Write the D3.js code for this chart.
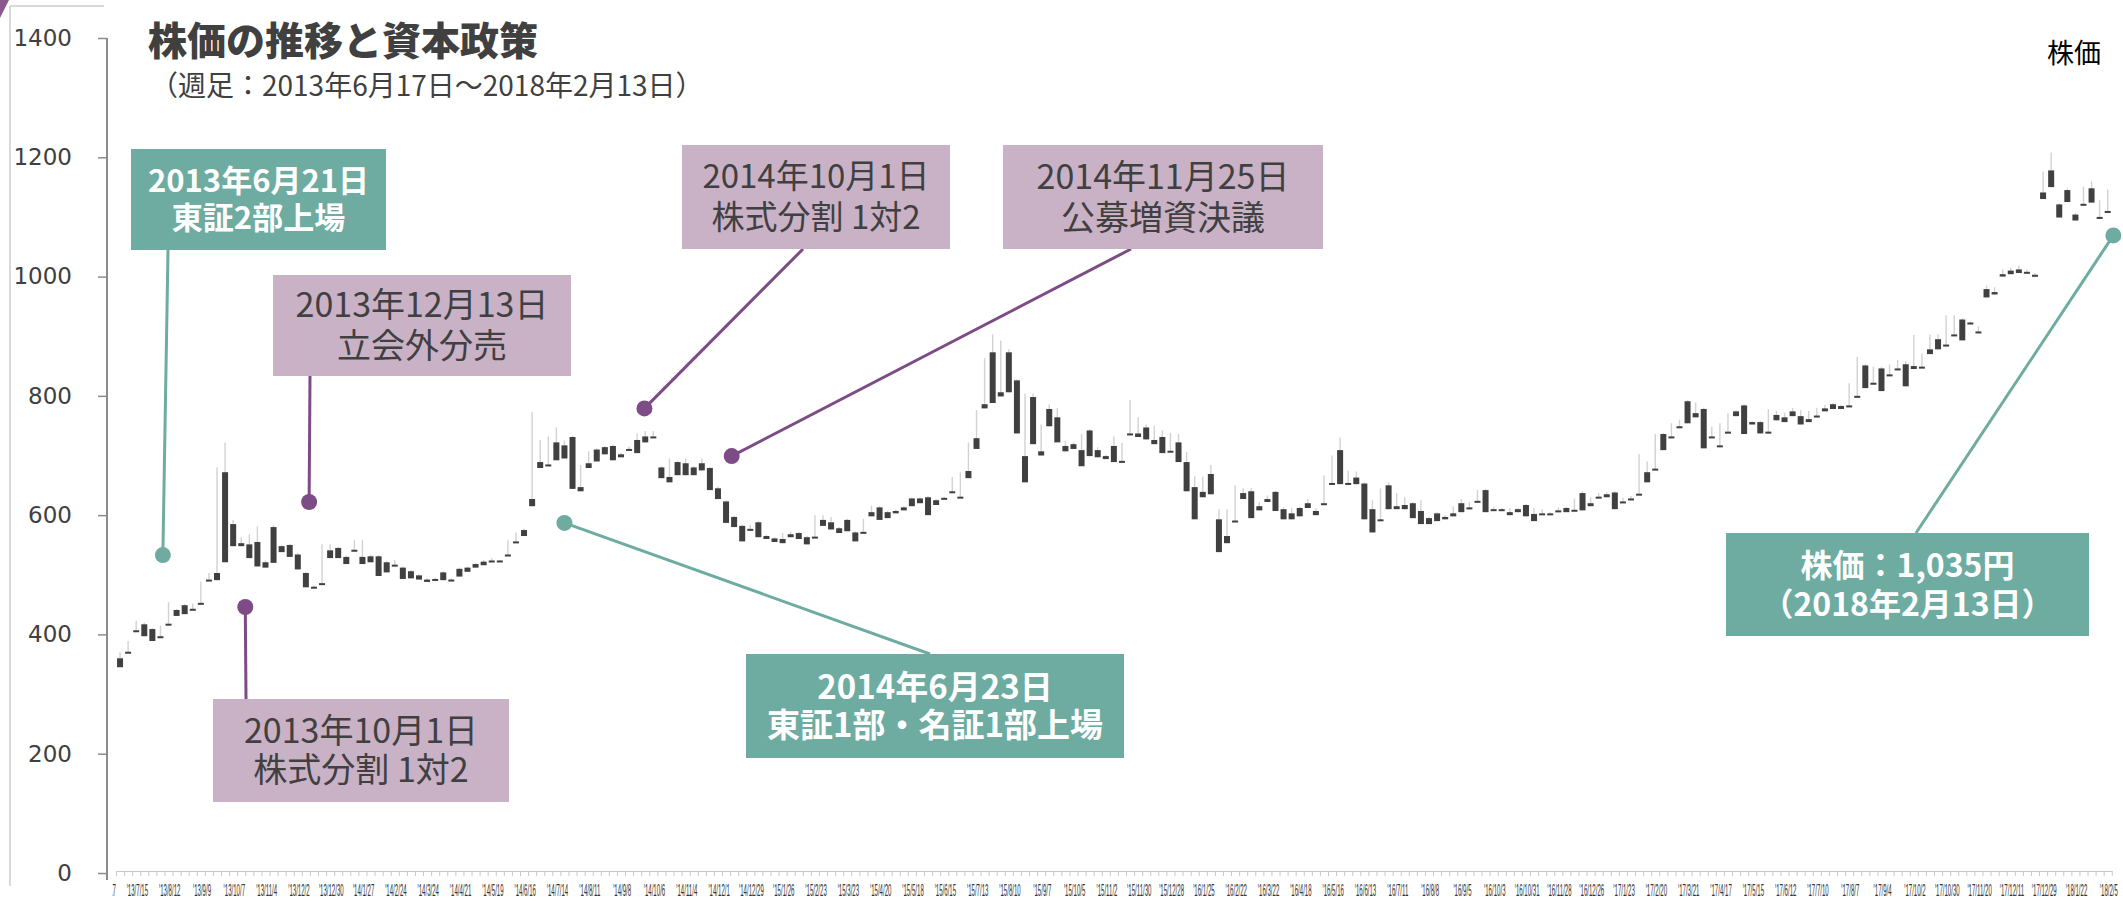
<!DOCTYPE html>
<html>
<head>
<meta charset="utf-8">
<script src="https://cdn.jsdelivr.net/npm/d3@7"></script>
<style>
  body { margin: 0; background: #fff; }
  text { font-family: "Noto Sans CJK JP", "Noto Sans", sans-serif; }
</style>
</head>
<body>
<div id="chart"></div>
<script>
// weekly category labels, one every 4 weeks
const xLabels = ["'13/6/17","'13/7/15","'13/8/12","'13/9/9","'13/10/7","'13/11/4","'13/12/2","'13/12/30",
  "'14/1/27","'14/2/24","'14/3/24","'14/4/21","'14/5/19","'14/6/16","'14/7/14","'14/8/11","'14/9/8",
  "'14/10/6","'14/11/4","'14/12/1","'14/12/29","'15/1/26","'15/2/23","'15/3/23","'15/4/20","'15/5/18",
  "'15/6/15","'15/7/13","'15/8/10","'15/9/7","'15/10/5","'15/11/2","'15/11/30","'15/12/28","'16/1/25",
  "'16/2/22","'16/3/22","'16/4/18","'16/5/16","'16/6/13","'16/7/11","'16/8/8","'16/9/5","'16/10/3",
  "'16/10/31","'16/11/28","'16/12/26","'17/1/23","'17/2/20","'17/3/21","'17/4/17","'17/5/15","'17/6/12",
  "'17/7/10","'17/8/7","'17/9/4","'17/10/2","'17/10/30","'17/11/20","'17/12/11","'17/12/29","'18/1/22","'18/2/5"];

// weekly candles: top of body, bottom of body, high
const bodyHi = [360,371,407,417,409,397,418,441,449,443,
  453,492,503,672,585,553,551,555,521,580,
  548,550,534,503,480,486,541,545,530,542,
  530,531,531,521,517,512,506,499,492,493,
  504,492,510,512,518,522,524,524,534,556,
  575,627,689,685,722,717,731,647,687,710,
  714,716,702,711,726,732,732,680,664,689,
  687,680,687,679,645,623,597,582,577,588,
  565,561,560,568,570,563,564,592,588,578,
  592,571,572,605,613,605,607,613,628,628,
  630,625,629,640,631,674,729,786,873,806,
  873,826,699,798,707,778,764,716,719,709,
  742,709,699,716,691,737,737,747,726,731,
  708,722,689,647,639,669,593,565,591,637,
  640,615,627,639,610,603,612,620,607,620,
  654,709,654,663,653,610,593,650,615,617,
  620,607,595,603,597,603,620,613,624,642,
  610,610,605,610,617,602,603,603,608,612,
  609,637,620,631,635,638,623,628,636,672,
  678,736,732,749,791,771,778,732,717,740,
  774,784,756,756,740,768,764,774,766,761,
  767,779,786,783,784,800,851,822,846,836,
  846,853,850,849,878,895,886,903,928,923,
  908,979,974,1004,1010,1012,1008,1003,1141,1178,
  1121,1145,1104,1122,1148,1100,1110];

const bodyLo = [345,369,405,397,389,395,416,431,434,441,
  451,490,491,521,548,548,528,514,512,520,
  538,530,509,479,478,484,528,528,518,540,
  518,521,498,504,515,493,494,492,488,491,
  491,490,497,505,512,516,521,522,532,554,
  565,615,679,683,692,695,644,640,679,690,
  702,692,697,709,704,722,730,662,655,667,
  667,667,675,642,627,587,580,556,575,563,
  560,555,553,563,560,551,562,582,576,570,
  573,556,570,598,592,595,603,608,615,620,
  600,617,627,637,629,662,711,779,788,799,
  806,737,655,719,700,749,722,707,711,682,
  699,697,694,689,689,734,731,727,719,704,
  706,689,640,593,630,635,538,553,589,627,
  595,608,622,607,593,593,598,612,600,617,
  652,652,652,652,593,571,591,610,610,610,
  595,585,585,590,593,598,605,610,622,605,
  607,607,600,605,598,590,601,601,605,605,
  607,608,615,629,630,610,621,625,634,655,
  676,709,729,746,754,764,712,730,715,738,
  766,736,752,737,738,759,756,766,752,756,
  765,774,778,778,781,798,813,820,808,834,
  844,816,845,847,870,878,883,901,893,920,
  905,965,970,1000,1004,1006,1005,1000,1130,1150,
  1099,1125,1094,1120,1124,1098,1108];

const priceHigh = [370,389,423,420,411,415,454,443,451,452,
  488,503,680,722,592,563,568,581,524,583,
  550,552,536,505,482,551,551,547,532,558,
  558,533,533,523,525,514,508,501,494,495,
  506,494,512,514,520,525,528,525,558,571,
  577,773,726,732,747,725,733,684,707,712,
  716,718,704,715,737,741,741,682,695,691,
  695,682,695,681,648,625,599,584,584,590,
  567,563,570,572,572,565,600,600,597,580,
  594,573,594,616,615,607,609,615,630,630,
  632,627,631,664,672,722,776,863,903,893,
  878,828,804,804,752,786,780,725,722,736,
  744,714,701,732,721,793,764,752,750,742,
  738,736,706,665,665,684,610,610,650,645,
  645,622,633,641,613,612,614,627,612,667,
  700,730,675,673,655,625,645,655,637,630,
  622,625,597,605,600,615,627,622,642,644,
  614,612,612,612,619,612,610,605,613,614,
  628,640,630,637,638,640,629,632,702,690,
  736,738,754,760,793,789,780,748,754,771,
  776,786,758,758,778,775,772,780,776,775,
  780,785,788,785,821,865,853,849,849,853,
  860,858,902,871,903,903,935,935,930,925,
  917,985,982,1012,1015,1018,1012,1006,1176,1208,
  1123,1148,1106,1151,1160,1128,1146];

const yTicks = [0, 200, 400, 600, 800, 1000, 1200, 1400];

// callouts: box in pixels, dot in data units (week index, price)
const callouts = [
  {lines: ["2013年6月21日", "東証2部上場"], kind: "teal", size: 31, gap: 37, box: [131, 149, 255, 101], from: [168, 250], week: 5.3, price: 533},
  {lines: ["2013年12月13日", "立会外分売"], kind: "mauve", size: 34, gap: 41, box: [273, 275, 298, 101], from: [310, 376], week: 23.4, price: 622},
  {lines: ["2014年10月1日", "株式分割 1対2"], kind: "mauve", size: 33, gap: 41, box: [682, 145, 268, 104], from: [803, 249], week: 64.9, price: 779},
  {lines: ["2014年11月25日", "公募増資決議"], kind: "mauve", size: 34, gap: 41, box: [1003, 145, 320, 104], from: [1131, 249], week: 75.7, price: 699},
  {lines: ["2013年10月1日", "株式分割 1対2"], kind: "mauve", size: 34, gap: 39, box: [213, 699, 296, 103], from: [246, 699], week: 15.5, price: 446},
  {lines: ["2014年6月23日", "東証1部・名証1部上場"], kind: "teal", size: 33, gap: 38, box: [746, 654, 378, 104], from: [930, 654], week: 55, price: 587},
  {lines: ["株価：1,035円", "（2018年2月13日）"], kind: "teal", size: 32, gap: 39, box: [1726, 533, 363, 103], from: [1916, 533], week: 246.7, price: 1069}
];

const width = 2123, height = 901;
const N = bodyHi.length;
const step = 8.08;
const colors = {
  teal: {box: "#6eaca2", text: "#ffffff", line: "#6eaca2", weight: "bold"},
  mauve: {box: "#c9b1c6", text: "#404040", line: "#7d4b85", weight: "normal"}
};

const svg = d3.select("#chart").append("svg")
  .attr("width", width)
  .attr("height", height);

// slide frame remnants on the left
svg.append("path")
  .attr("d", "M10,6 L104,6 M10,6 L10,886")
  .attr("fill", "none")
  .attr("stroke", "#d9d9d9")
  .attr("stroke-width", 2);
svg.append("path")
  .attr("d", "M0,0 L9,0 L0,18 Z")
  .attr("fill", "#8a5a8f");

const x = d3.scaleLinear().domain([0, N]).range([116, 116 + N * step]);
const y = d3.scaleLinear().domain([0, 1400]).range([873, 38]);

// y axis
const yAxis = svg.append("g")
  .attr("transform", "translate(107,0)")
  .call(d3.axisLeft(y).tickValues(yTicks).tickFormat(d3.format("d"))
    .tickSize(9).tickSizeOuter(0).tickPadding(26));
yAxis.select(".domain").remove();
yAxis.selectAll(".tick line").attr("stroke", "#8c8c8c").attr("stroke-width", 1.5);
yAxis.selectAll(".tick text")
  .attr("fill", "#404040")
  .style("font-family", "'DejaVu Sans', Verdana, sans-serif")
  .style("font-size", "23px");
svg.append("line")
  .attr("x1", 107).attr("x2", 107)
  .attr("y1", y(1400)).attr("y2", 880)
  .attr("stroke", "#8c8c8c")
  .attr("stroke-width", 2);

// x axis: one tick per week
const xAxis = svg.append("g")
  .attr("transform", "translate(0,871)")
  .call(d3.axisBottom(x).tickValues(d3.range(0, N + 1)).tickSize(5).tickSizeOuter(0).tickFormat(""));
xAxis.select(".domain").attr("stroke", "#c8c8c8");
xAxis.selectAll(".tick line").attr("stroke", "#c8c8c8");

svg.append("clipPath").attr("id", "labelClip")
  .append("rect").attr("x", 112).attr("y", 876).attr("width", width - 112).attr("height", 30);

// narrow, squeezed date labels
svg.append("g")
  .attr("clip-path", "url(#labelClip)")
  .selectAll("text")
  .data(xLabels)
  .join("text")
    .attr("transform", (d, k) => `translate(${x(k * 4 + 0.5) - 15},896) scale(0.38,1)`)
    .attr("text-anchor", "middle")
    .attr("fill", "#333")
    .style("font-family", "'Liberation Sans', Arial, sans-serif")
    .style("font-size", "16px")
    .text(d => d);

// candles
const candles = svg.append("g")
  .selectAll("g")
  .data(d3.range(N))
  .join("g");

candles.append("line")
  .attr("x1", i => x(i + 0.5))
  .attr("x2", i => x(i + 0.5))
  .attr("y1", i => y(priceHigh[i]))
  .attr("y2", i => y(bodyLo[i]))
  .attr("stroke", "#d2d2d2")
  .attr("stroke-width", 1.4);

candles.append("rect")
  .attr("x", i => x(i + 0.5) - 3)
  .attr("width", 6)
  .attr("y", i => y(bodyHi[i]))
  .attr("height", i => Math.max(2, y(bodyLo[i]) - y(bodyHi[i])))
  .attr("fill", "#404040");

// callouts
const co = svg.append("g")
  .selectAll("g")
  .data(callouts)
  .join("g");

co.append("line")
  .attr("x1", d => d.from[0])
  .attr("y1", d => d.from[1])
  .attr("x2", d => x(d.week + 0.5))
  .attr("y2", d => y(d.price))
  .attr("stroke", d => colors[d.kind].line)
  .attr("stroke-width", 3);

co.append("circle")
  .attr("cx", d => x(d.week + 0.5))
  .attr("cy", d => y(d.price))
  .attr("r", 8)
  .attr("fill", d => colors[d.kind].line);

co.append("rect")
  .attr("x", d => d.box[0])
  .attr("y", d => d.box[1])
  .attr("width", d => d.box[2])
  .attr("height", d => d.box[3])
  .attr("fill", d => colors[d.kind].box);

// two-line label in one text element
co.append("text")
  .attr("text-anchor", "middle")
  .attr("fill", d => colors[d.kind].text)
  .style("font-size", d => d.size + "px")
  .style("font-weight", d => colors[d.kind].weight)
  .each(function(d) {
    const cx = d.box[0] + d.box[2] / 2;
    const cy = d.box[1] + d.box[3] / 2;
    d.lines.forEach((t, j) => {
      d3.select(this).append("tspan")
        .attr("x", cx)
        .attr("y", cy + (j - 0.5) * d.gap + d.size * 0.36)
        .text(t);
    });
  });

// titles
svg.append("text")
  .attr("x", 148).attr("y", 55)
  .attr("fill", "#404040")
  .style("font-size", "39px")
  .style("font-weight", "900")
  .text("株価の推移と資本政策");

svg.append("text")
  .attr("x", 150).attr("y", 96)
  .attr("fill", "#404040")
  .style("font-size", "28px")
  .text("（週足：2013年6月17日～2018年2月13日）");

svg.append("text")
  .attr("x", 2047).attr("y", 63)
  .attr("fill", "#000")
  .style("font-size", "27px")
  .text("株価");
</script>
</body>
</html>
